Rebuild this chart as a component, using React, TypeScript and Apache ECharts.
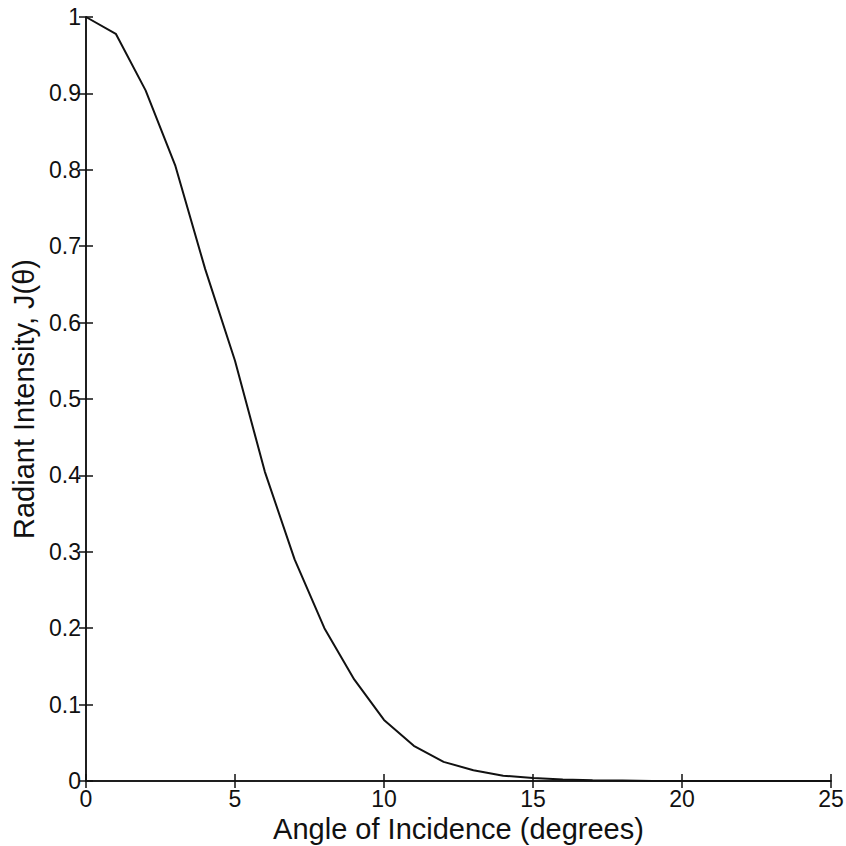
import React, { useEffect, useRef } from "react";
import * as echarts from "echarts";

const angles = [0, 1, 2, 3, 4, 5, 6, 7, 8, 9, 10, 11, 12, 13, 14, 15, 16, 17, 18, 19, 20, 21, 22, 23, 24, 25];
const intensity = [1.0, 0.978, 0.904, 0.805, 0.67, 0.55, 0.405, 0.29, 0.2, 0.133, 0.08, 0.046, 0.025, 0.014, 0.007, 0.004, 0.002, 0.001, 0.0005, 0, 0, 0, 0, 0, 0, 0];
const xTitle = "Angle of Incidence (degrees)";
const yTitle = "Radiant Intensity, J(θ)";

export default function App() {
  const ref = useRef<HTMLDivElement>(null);
  useEffect(() => {
    document.body.style.margin = "0";
    const chart = echarts.init(ref.current!, null, { renderer: "svg" });
    const font = "'Liberation Sans', Arial, sans-serif";
    const axisLine = { show: true, lineStyle: { color: "#111", width: 1.5 } };
    const tickStyle = { show: true, inside: true, length: 7, lineStyle: { color: "#111", width: 1.5 } };
    chart.setOption({
      animation: false,
      backgroundColor: "#fff",
      grid: { left: 86, right: 15, top: 17, bottom: 65, containLabel: false, outerBoundsMode: "none" },
      xAxis: [
        {
          type: "value", min: 0, max: 25, interval: 5,
          axisLine, axisTick: tickStyle, splitLine: { show: false },
          axisLabel: { fontSize: 23, color: "#111", fontFamily: font, margin: 6 },
          name: xTitle, nameLocation: "middle", nameGap: 31,
          nameTextStyle: { fontSize: 29, color: "#111", fontFamily: font },
        },
        {
          type: "value", min: 0, max: 25, interval: 5, position: "top",
          axisLine, axisTick: tickStyle, axisLabel: { show: false }, splitLine: { show: false },
        },
      ],
      yAxis: [
        {
          type: "value", min: 0, max: 1, interval: 0.1,
          axisLine, axisTick: tickStyle, splitLine: { show: false },
          axisLabel: { fontSize: 23, color: "#111", fontFamily: font, margin: 5,
            formatter: (v: number) => String(Math.round(v * 10) / 10) },
          name: yTitle, nameLocation: "middle", nameGap: 48,
          nameTextStyle: { fontSize: 29, color: "#111", fontFamily: font },
        },
        {
          type: "value", min: 0, max: 1, interval: 0.1, position: "right",
          axisLine, axisTick: tickStyle, axisLabel: { show: false }, splitLine: { show: false },
        },
      ],
      series: [
        {
          type: "line",
          data: angles.map((a, i) => [a, intensity[i]]),
          showSymbol: false,
          lineStyle: { color: "#111", width: 2 },
          xAxisIndex: 0, yAxisIndex: 0,
        },
      ],
    });
    return () => chart.dispose();
  }, []);
  return <div ref={ref} style={{ width: 846, height: 846 }} />;
}
